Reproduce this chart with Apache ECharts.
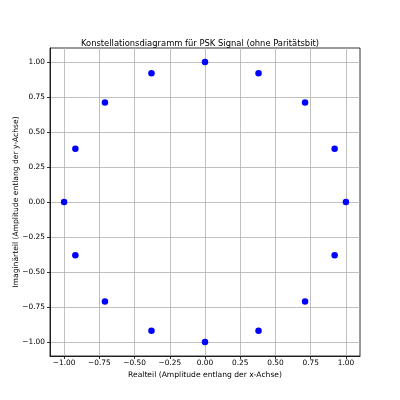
<!DOCTYPE html>
<html>
<head>
<meta charset="utf-8">
<script src="https://cdn.jsdelivr.net/npm/echarts@6/dist/echarts.min.js"></script>
<style>
  html, body { margin: 0; padding: 0; background: #fff; }
</style>
</head>
<body>
<div id="chart" style="width: 400px; height: 400px;"></div>
<script>
  // Realteil / Imaginärteil der 16 Konstellationspunkte
  const realPart = [1.00, 0.92, 0.71, 0.38, 0.00, -0.38, -0.71, -0.92, -1.00, -0.92, -0.71, -0.38, 0.00, 0.38, 0.71, 0.92];
  const imagPart = [0.00, 0.38, 0.71, 0.92, 1.00, 0.92, 0.71, 0.38, 0.00, -0.38, -0.71, -0.92, -1.00, -0.92, -0.71, -0.38];
  const tickValues = [-1.00, -0.75, -0.50, -0.25, 0.00, 0.25, 0.50, 0.75, 1.00];

  const points = realPart.map((x, i) => [x, imagPart[i]]);

  const fmt = (v) => {
    const s = Math.abs(v).toFixed(2);
    return v < -1e-9 ? '\u2212' + s : s;
  };

  const axisCommon = {
    type: 'value',
    min: -1.1,
    max: 1.1,
    nameLocation: 'middle',
    nameMoveOverlap: false,
    nameTextStyle: { fontFamily: 'DejaVu Sans', fontSize: 7.6, color: '#000' },
    axisLine: { show: true, onZero: false, lineStyle: { color: '#000', width: 0.8 } },
    axisTick: { show: true, length: 3, lineStyle: { color: '#000', width: 0.8 }, customValues: tickValues },
    axisLabel: {
      fontFamily: 'DejaVu Sans', fontSize: 7.4, color: '#000',
      customValues: tickValues, formatter: fmt
    },
    splitLine: { show: true, lineStyle: { color: '#b0b0b0', width: 0.8 } }
  };

  const myChart = echarts.init(document.getElementById('chart'));
  const option = {
    animation: false,
    title: {
      text: 'Konstellationsdiagramm für PSK Signal (ohne Paritätsbit)',
      left: 'center',
      top: 35,
      textStyle: { fontFamily: 'DejaVu Sans', fontSize: 8.4, fontWeight: 'normal', color: '#000' }
    },
    grid: {
      left: 50, right: 40, top: 48, bottom: 44,
      outerBoundsMode: 'none',
      containLabel: false,
      show: true, borderColor: '#000', borderWidth: 0.8
    },
    xAxis: Object.assign({}, axisCommon, {
      name: 'Realteil (Amplitude entlang der x-Achse)',
      nameGap: 15,
      axisLabel: Object.assign({}, axisCommon.axisLabel, { margin: 4 })
    }),
    yAxis: Object.assign({}, axisCommon, {
      name: 'Imaginärteil (Amplitude entlang der y-Achse)',
      nameGap: 30,
      nameRotate: 90,
      axisLabel: Object.assign({}, axisCommon.axisLabel, { margin: 5 })
    }),
    series: [
      {
        type: 'scatter',
        data: points,
        symbol: 'circle',
        symbolSize: 6.5,
        itemStyle: { color: '#0000ff', opacity: 1 }
      }
    ]
  };

  myChart.setOption(option);
</script>
</body>
</html>
